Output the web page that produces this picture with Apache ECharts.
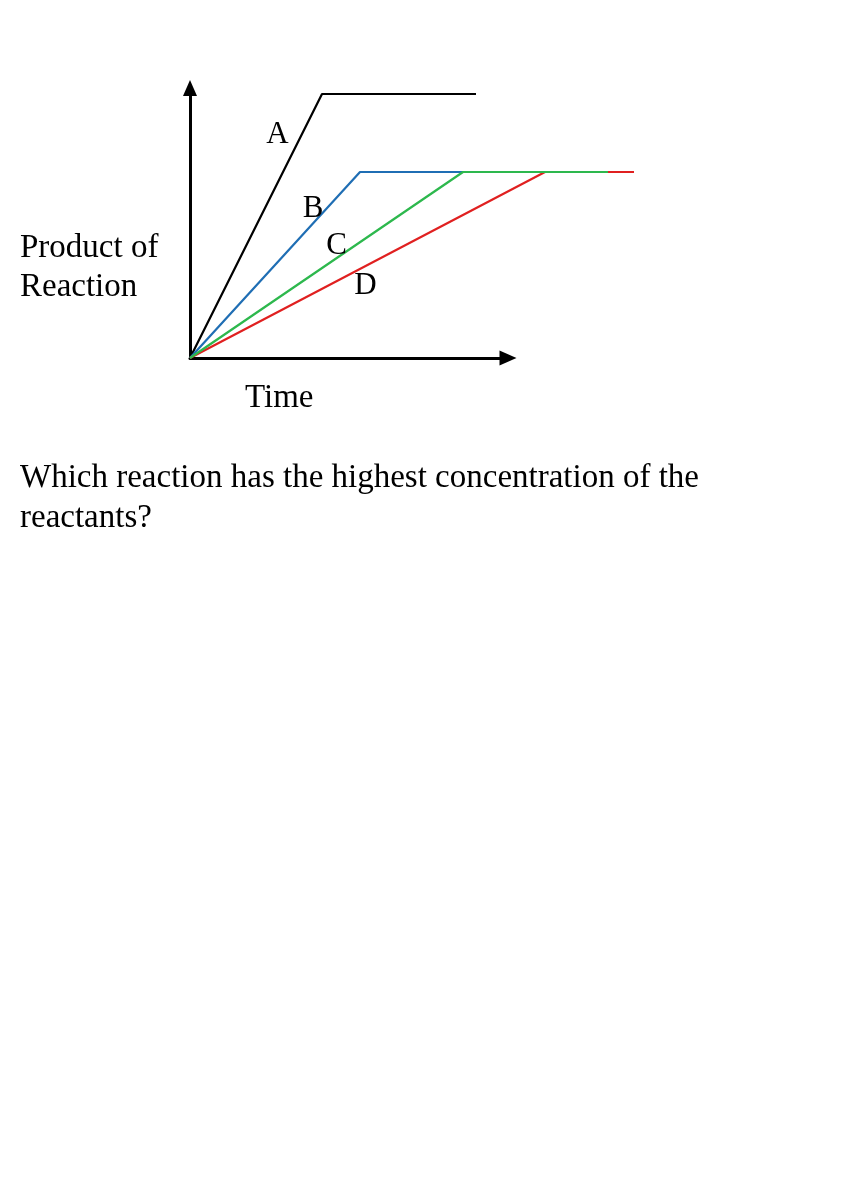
<!DOCTYPE html>
<html>
<head>
<meta charset="utf-8">
<script src="https://cdn.jsdelivr.net/npm/echarts@6/dist/echarts.min.js"></script>
<style>
html,body{margin:0;padding:0;background:#fff;}
#chart{width:866px;height:1180px;}
</style>
</head>
<body>
<div id="chart"></div>
<script>
// Data (time units, product units)
const seriesNames = ['A', 'B', 'C', 'D'];
const seriesA = [[0, 0], [13.2, 26.4], [28.6, 26.4]];
const seriesB = [[0, 0], [17.0, 18.6], [27.3, 18.6]];
const seriesC = [[0, 0], [27.3, 18.6], [41.8, 18.6]];
const seriesD = [[0, 0], [35.5, 18.6], [44.4, 18.6]];
const labelPositions = [[8.75, 22.3], [12.3, 14.95], [14.65, 11.2], [17.55, 7.2]];
const colors = ['#000000', '#1f6eb4', '#2db84d', '#e02020'];

const font = '"Liberation Serif", "Times New Roman", serif';
const chart = echarts.init(document.getElementById('chart'), null, {renderer: 'canvas'});

function lineSeries(name, data, color, z) {
  return {
    name: name, type: 'line', data: data, symbol: 'none', clip: false,
    xAxisIndex: 1, yAxisIndex: 1,
    lineStyle: {color: color, width: 2.2}, z: z, animation: false
  };
}

const option = {
  backgroundColor: '#ffffff',
  animation: false,
  grid: [
    {left: 190, top: 88, width: 318, height: 270},
    {left: 190, top: 88, width: 460, height: 270}
  ],
  xAxis: [{
    type: 'value', min: 0, max: 31.8, gridIndex: 0,
    axisLine: {show: true, lineStyle: {color: '#000', width: 3}, symbol: ['none', 'triangle'], symbolSize: [15, 17], symbolOffset: [0, 0]},
    axisTick: {show: false}, axisLabel: {show: false}, splitLine: {show: false}
  }, {
    type: 'value', min: 0, max: 46, gridIndex: 1, show: false, splitLine: {show: false}
  }],
  yAxis: [{
    type: 'value', min: 0, max: 27, gridIndex: 0,
    axisLine: {show: true, lineStyle: {color: '#000', width: 3}, symbol: ['none', 'triangle'], symbolSize: [14, 16], symbolOffset: [0, 0]},
    axisTick: {show: false}, axisLabel: {show: false}, splitLine: {show: false}
  }, {
    type: 'value', min: 0, max: 27, gridIndex: 1, show: false, splitLine: {show: false}
  }],
  series: [
    lineSeries('A', seriesA, colors[0], 3),
    lineSeries('B', seriesB, colors[1], 3),
    lineSeries('D', seriesD, colors[3], 3),
    lineSeries('C', seriesC, colors[2], 4),
    {
      type: 'scatter', symbolSize: 0, z: 5, xAxisIndex: 1, yAxisIndex: 1,
      itemStyle: {opacity: 1},
      data: labelPositions.map((p, i) => ({value: p, name: seriesNames[i]})),
      label: {show: true, position: 'inside', formatter: '{b}', color: '#000', opacity: 1, fontSize: 31, fontFamily: font, textBorderWidth: 0}
    }
  ],
  graphic: [
    {type: 'text', left: 20, top: 229, style: {text: 'Product of\nReaction', font: '33px ' + font, fill: '#000', lineHeight: 39}},
    {type: 'text', left: 245, top: 382, style: {text: 'Time', font: '33px ' + font, fill: '#000'}},
    {type: 'text', left: 20, top: 458, style: {text: 'Which reaction has the highest concentration of the\nreactants?', font: '33px ' + font, fill: '#000', lineHeight: 40}}
  ]
};
chart.setOption(option);
</script>
</body>
</html>
